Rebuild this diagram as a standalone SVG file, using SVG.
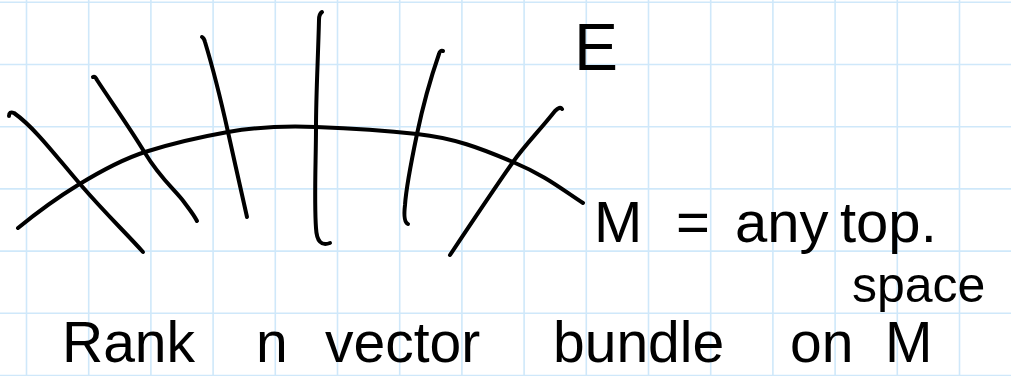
<svg xmlns="http://www.w3.org/2000/svg" width="1011" height="376" viewBox="0 0 1011 376">
<defs>
<style>
.grid line{stroke:#cfe8fa;stroke-width:1.6}
.ink{fill:none;stroke:#000;stroke-width:4;stroke-linecap:round;stroke-linejoin:round}
.hand{font-family:"Liberation Sans","DejaVu Sans",sans-serif;fill:#000}
</style>
</defs>
<rect width="1011" height="376" fill="#fff"/>
<g id="grid" class="grid">
<line x1="26.5" y1="0" x2="26.5" y2="376"/><line x1="88.7" y1="0" x2="88.7" y2="376"/><line x1="150.9" y1="0" x2="150.9" y2="376"/><line x1="213.1" y1="0" x2="213.1" y2="376"/><line x1="275.3" y1="0" x2="275.3" y2="376"/><line x1="337.5" y1="0" x2="337.5" y2="376"/><line x1="399.7" y1="0" x2="399.7" y2="376"/><line x1="461.9" y1="0" x2="461.9" y2="376"/><line x1="524.1" y1="0" x2="524.1" y2="376"/><line x1="586.3" y1="0" x2="586.3" y2="376"/><line x1="648.5" y1="0" x2="648.5" y2="376"/><line x1="710.7" y1="0" x2="710.7" y2="376"/><line x1="772.9" y1="0" x2="772.9" y2="376"/><line x1="835.1" y1="0" x2="835.1" y2="376"/><line x1="897.3" y1="0" x2="897.3" y2="376"/><line x1="959.5" y1="0" x2="959.5" y2="376"/>
<line x1="0" y1="2.3" x2="1011" y2="2.3"/><line x1="0" y1="64.5" x2="1011" y2="64.5"/><line x1="0" y1="126.7" x2="1011" y2="126.7"/><line x1="0" y1="188.9" x2="1011" y2="188.9"/><line x1="0" y1="251.1" x2="1011" y2="251.1"/><line x1="0" y1="313.3" x2="1011" y2="313.3"/><line x1="0" y1="375.5" x2="1011" y2="375.5"/>
</g>
<g id="base-M">
<path class="ink" d="M18,228 C40,210 60,196 78,185 S120,160 145,152 S200,137 228,132 S290,126 316,127 S380,130 417,134 S480,148 513,162 S560,188 583,203"/>
</g>
<g id="fibers">
<path class="ink" d="M9,116 Q9,111 14,113 C35,128 55,155 80,184 S125,232 143,252"/>
<path class="ink" d="M93,77 Q95,76 97,80 C110,100 130,128 145,153 S175,190 184,202 S194,215 197,221"/>
<path class="ink" d="M202,37 Q204,38 205,42 C215,75 222,105 228,132 S242,195 247,217"/>
<path class="ink" d="M322,12 Q319,14 319,20 C318,60 316,95 316,127 S314,200 316,228 Q317,248 330,243"/>
<path class="ink" d="M443,51 Q440,50 439,54 C430,80 422,110 417,134 S406,190 405,205 Q403,222 408,224"/>
<path class="ink" d="M562,109 Q560,106 555,111 C540,130 525,145 513,162 S470,225 450,255"/>
</g>
<g id="label-E"><text class="hand" x="574" y="70" font-size="66">E</text></g>
<g id="label-M"><text class="hand" y="242" font-size="58"><tspan x="594">M</tspan><tspan x="676">=</tspan><tspan x="735">any</tspan><tspan x="840">top.</tspan></text></g>
<g id="label-space"><text class="hand" x="852" y="302" font-size="50">space</text></g>
<g id="caption"><text class="hand" y="362" font-size="57"><tspan x="62">Rank</tspan><tspan x="256">n</tspan><tspan x="325">vector</tspan><tspan x="553">bundle</tspan><tspan x="790">on</tspan><tspan x="885">M</tspan></text></g>
</svg>
